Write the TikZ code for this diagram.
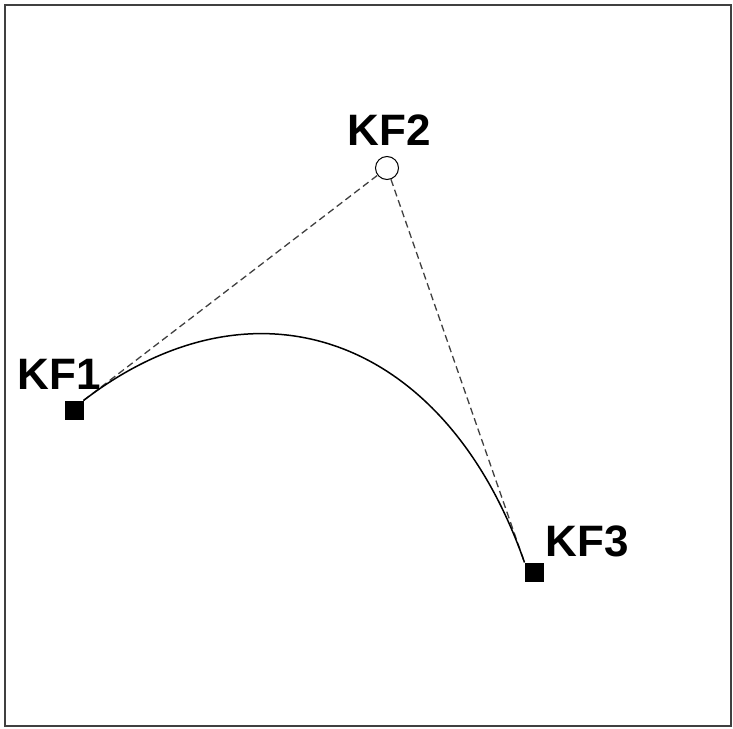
\documentclass[tikz,border=0pt]{standalone}
\usepackage{fontspec}
\setmainfont{Liberation Sans}
\usetikzlibrary{calc}
\begin{document}
\begin{tikzpicture}[x=1pt,y=-1pt,
  keysq/.style={fill=black,minimum size=19pt,inner sep=0pt,outer sep=0pt},
  keycirc/.style={circle,draw=black,fill=white,line width=1pt,minimum size=23pt,inner sep=0pt},
  lbl/.style={font=\fontsize{44}{44}\selectfont\bfseries,inner sep=0pt,anchor=base},
  guide/.style={draw=black!75,line width=1.3pt,dash pattern=on 7pt off 4pt},
  curvestyle/.style={draw=black,line width=1.5pt}]
\useasboundingbox (0,0) rectangle (733,728);
\draw[draw=black!75,line width=2.2pt] (5,5) rectangle (731,726);
\node[keysq] (k1) at (74,410) {};
\node[keycirc] (k2) at (387,168) {};
\node[keysq] (k3) at (534,572) {};
\node[lbl] (t1) at (59,389) {KF1};
\node[lbl] (t2) at (389,145) {KF2};
\node[lbl] (t3) at (587,556) {KF3};
\draw[guide] (k1.north east) -- (k2);
\draw[guide] (k2) -- (k3.north west);
\draw[curvestyle] (k1.north east) .. controls ($(k1.north east)!0.57!(k2.center)$) and ($(k3.north west)!0.57!(k2.center)$) .. (k3.north west);
\end{tikzpicture}
\end{document}
